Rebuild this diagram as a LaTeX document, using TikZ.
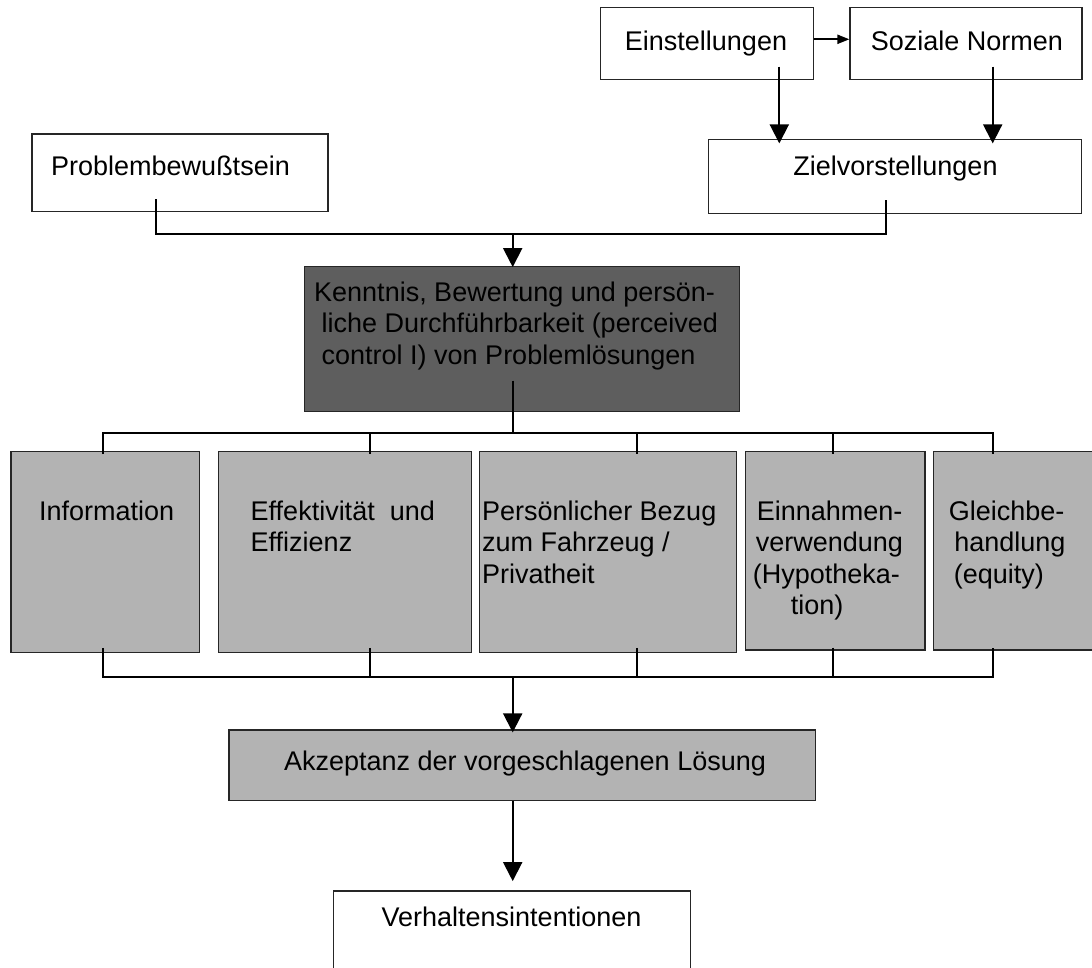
\documentclass[tikz,border=0pt]{standalone}
\usepackage{fontspec}
\setmainfont{Liberation Sans}
\usetikzlibrary{arrows.meta,fit,calc}
\definecolor{darkbox}{HTML}{5E5E5E}
\definecolor{lightbox}{HTML}{B3B3B3}
\definecolor{edge}{HTML}{262626}

\begin{document}
\begin{tikzpicture}[x=1pt,y=-1pt,
  box/.style={draw=edge, line width=1.2pt, rectangle, inner sep=0pt},
  whitebox/.style={box, fill=white},
  greybox/.style={box, fill=lightbox},
  darkfill/.style={box, fill=darkbox},
  txt/.style={inner sep=0pt, font=\fontsize{27pt}{31.2pt}\selectfont, align=left},
  conn/.style={line width=2pt, black},
  arrbig/.style={conn, -{Triangle[length=19pt,width=19pt]}},
  arrsmall/.style={conn, -{Triangle[length=12pt,width=9pt]}}
]
\fill[white] (0,0) rectangle (1092,968);
\useasboundingbox (0,0) rectangle (1092,968);

% ---- boxes ----
\node[whitebox, fit={(600.5,7.3) (813.3,79.3)}] (einst) {};
\node[whitebox, fit={(850,7.3) (1082,79.3)}] (soz) {};
\node[whitebox, fit={(708.3,139.3) (1081.7,213.3)}] (ziel) {};
\node[whitebox, fit={(32,134) (328,211.7)}] (prob) {};
\node[darkfill, fit={(304.3,266.7) (739.3,411.7)}] (kennt) {};
\node[greybox, fit={(11,451.7) (199.3,652.3)}] (info) {};
\node[greybox, fit={(218.7,451.7) (471.7,652.3)}] (effekt) {};
\node[greybox, fit={(479.3,451.7) (736.7,652.3)}] (pers) {};
\node[greybox, fit={(745.7,451.7) (925,650)}] (einn) {};
\node[greybox, fit={(933.3,451.7) (1100,650)}] (gleich) {};
\node[greybox, fit={(229,730) (815.7,800.7)}] (akz) {};
\node[whitebox, fit={(333.3,891) (690.7,990)}] (verh) {};

% ---- texts (multi-line blocks are placed by the baseline of their last line) ----
\node[txt, anchor=base] (einstT) at (706,50.7) {Einstellungen};
\node[txt, anchor=base] (sozT) at (967,50.7) {Soziale Normen};
\node[txt, anchor=base] (zielT) at (895.5,176) {Zielvorstellungen};
\node[txt, anchor=base west] (probT) at (51,176) {Problembewußtsein};
\node[txt, anchor=base west] (kenntT) at (314,364.1)
  {Kenntnis, Bewertung und persön-\\\hspace*{7.5pt}liche Durchführbarkeit (perceived\\\hspace*{7.5pt}control I) von Problemlösungen};
\node[txt, anchor=base west] (infoT) at (39,520.7) {Information};
\node[txt, anchor=base west] (effektT) at (250.5,551.9) {Effektivität\ \ und\\Effizienz};
\node[txt, anchor=base west] (persT) at (482,583.1) {Persönlicher Bezug\\zum Fahrzeug /\\Privatheit};
\node[txt, anchor=base west] (einnT) at (752.6,614.3)
  {\hspace*{4pt}Einnahmen-\\\hspace*{3pt}verwendung\\(Hypotheka-\\\hspace*{38pt}tion)};
\node[txt, anchor=base west] (gleichT) at (948.7,583.1)
  {Gleichbe-\\\hspace*{5.5pt}handlung\\\hspace*{5pt}(equity)};
\node[txt, anchor=base] (akzT) at (525,770) {Akzeptanz der vorgeschlagenen Lösung};
\node[txt, anchor=base] (verhT) at (511.5,926.7) {Verhaltensintentionen};

% ---- reference points for the connectors ----
\coordinate (hRow) at (0,39.3);
\coordinate (eD) at (779.3,66.7);
\coordinate (sD) at (992.7,66.7);
\coordinate (pT) at (156.3,199.3);
\coordinate (zT) at (886,200);
\coordinate (topbar) at (0,234.3);
\coordinate (kx) at (512.7,0);
\coordinate (kU) at (512.7,380.7);
\coordinate (midbar) at (0,432.5);
\coordinate (botbar) at (0,677.3);
\coordinate (tI) at (103,0);
\coordinate (tE) at (370,0);
\coordinate (tP) at (637.3,0);
\coordinate (tN) at (832.7,0);
\coordinate (tG) at (993.3,0);

% ---- top part ----
\draw[arrsmall] (einst.east |- hRow) -- (soz.west |- hRow);
\draw[arrbig, shorten >=-4.7pt] (eD) -- (eD |- ziel.north);
\draw[arrbig, shorten >=-4.7pt] (sD) -- (sD |- ziel.north);
\draw[conn] (pT) -- (pT |- topbar) -- (zT |- topbar) -- (zT);
\draw[arrbig, shorten >=-1pt] (kx |- topbar) -- (kx |- kennt.north);

% ---- fan-out to the five factors ----
\draw[conn] (kU) -- (kU |- midbar);
\draw[conn] ([yshift=-3pt]tI |- info.north) -- (tI |- midbar) -- (tG |- midbar) -- ([yshift=-3pt]tG |- gleich.north);
\draw[conn] (tE |- midbar) -- ([yshift=-3pt]tE |- effekt.north);
\draw[conn] (tP |- midbar) -- ([yshift=-3pt]tP |- pers.north);
\draw[conn] (tN |- midbar) -- ([yshift=-3pt]tN |- einn.north);

% ---- fan-in to acceptance ----
\draw[conn] ([yshift=5pt]tI |- info.south) -- (tI |- botbar) -- (tG |- botbar) -- ([yshift=3pt]tG |- gleich.south);
\draw[conn] ([yshift=5pt]tE |- effekt.south) -- (tE |- botbar);
\draw[conn] ([yshift=5pt]tP |- pers.south) -- (tP |- botbar);
\draw[conn] ([yshift=3pt]tN |- einn.south) -- (tN |- botbar);
\draw[arrbig, shorten >=-3pt] (kx |- botbar) -- (kx |- akz.north);
\draw[arrbig, shorten >=9.3pt] (kx |- akz.south) -- (kx |- verh.north);
\end{tikzpicture}
\end{document}
